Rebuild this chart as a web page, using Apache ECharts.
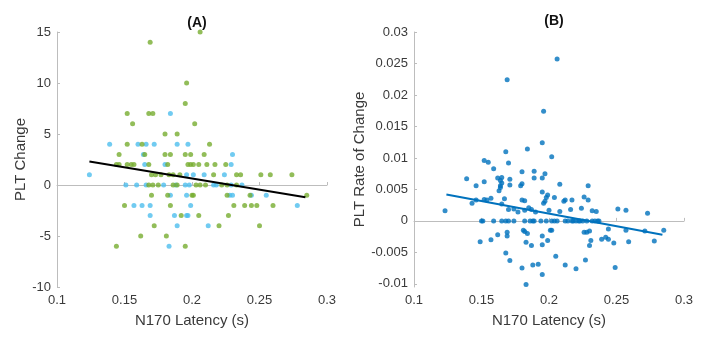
<!DOCTYPE html>
<html>
<head>
<meta charset="utf-8">
<style>
  html, body { margin: 0; padding: 0; background: #fff; }
  #chart { width: 720px; height: 347px; }
</style>
<script src="https://cdn.jsdelivr.net/npm/echarts@6/dist/echarts.min.js"></script>
</head>
<body>
<div id="chart"></div>
<script>
// Panel A: PLT change vs N170 latency, two groups ([latency, change])
const groupGreen = [
  [0.206, 15], [0.169, 14], [0.196, 10], [0.195, 8],
  [0.152, 7], [0.168, 7], [0.171, 7],
  [0.156, 6], [0.202, 6],
  [0.180, 5], [0.189, 5],
  [0.152, 4], [0.163, 4], [0.213, 4],
  [0.146, 3], [0.165, 3], [0.180, 3], [0.184, 3], [0.195, 3], [0.199, 3], [0.209, 3],
  [0.144, 2], [0.146, 2], [0.152, 2], [0.155, 2], [0.157, 2], [0.168, 2], [0.182, 2],
  [0.197, 2], [0.199, 2], [0.201, 2], [0.205, 2], [0.211, 2], [0.217, 2], [0.225, 2],
  [0.170, 1], [0.173, 1], [0.177, 1], [0.183, 1], [0.186, 1], [0.191, 1],
  [0.216, 1], [0.233, 1], [0.236, 1], [0.251, 1], [0.258, 1], [0.274, 1],
  [0.168, 0], [0.171, 0], [0.175, 0], [0.186, 0], [0.189, 0], [0.203, 0],
  [0.206, 0], [0.210, 0], [0.222, 0], [0.226, 0], [0.233, 0],
  [0.170, -1], [0.182, -1], [0.200, -1], [0.201, -1], [0.226, -1], [0.243, -1], [0.285, -1],
  [0.150, -2], [0.184, -2], [0.231, -2], [0.239, -2], [0.244, -2], [0.248, -2], [0.260, -2],
  [0.192, -3], [0.205, -3], [0.227, -3],
  [0.172, -4], [0.220, -4], [0.250, -4],
  [0.162, -5], [0.181, -5],
  [0.144, -6], [0.195, -6]
];
const groupBlue = [
  [0.184, 7],
  [0.139, 4], [0.160, 4], [0.166, 4], [0.172, 4], [0.189, 4], [0.197, 4],
  [0.164, 3], [0.230, 3],
  [0.165, 2], [0.180, 2], [0.229, 2],
  [0.124, 1], [0.196, 1], [0.201, 1], [0.209, 1], [0.224, 1],
  [0.151, 0], [0.159, 0], [0.166, 0], [0.179, 0], [0.188, 0], [0.195, 0],
  [0.198, 0], [0.216, 0], [0.218, 0], [0.229, 0], [0.237, 0],
  [0.184, -1], [0.196, -1], [0.228, -1], [0.230, -1], [0.244, -1], [0.255, -1],
  [0.157, -2], [0.163, -2], [0.169, -2], [0.199, -2], [0.278, -2],
  [0.169, -3], [0.187, -3], [0.196, -3], [0.197, -3],
  [0.189, -4], [0.212, -4],
  [0.183, -6]
];
// Least-squares fit line for panel A (end points)
const fitLineA = [[0.124, 2.3], [0.284, -1.2]];

// Panel B: PLT rate of change vs N170 latency
const rateData = [
  [0.206, 0.0257], [0.169, 0.0224], [0.196, 0.0174], [0.195, 0.0124],
  [0.184, 0.0114], [0.168, 0.0110], [0.202, 0.0102], [0.152, 0.0096],
  [0.155, 0.0093], [0.170, 0.0092], [0.159, 0.0083], [0.189, 0.0079],
  [0.180, 0.0078], [0.197, 0.0075], [0.195, 0.0068], [0.189, 0.0068],
  [0.139, 0.0067], [0.162, 0.0068], [0.165, 0.0069], [0.164, 0.0064],
  [0.171, 0.0066], [0.152, 0.0062], [0.146, 0.0056], [0.164, 0.0056],
  [0.165, 0.0060], [0.179, 0.0056], [0.180, 0.0059], [0.171, 0.0057],
  [0.208, 0.0058], [0.229, 0.0056], [0.163, 0.0048], [0.164, 0.0053],
  [0.195, 0.0046], [0.199, 0.0041], [0.198, 0.0037], [0.204, 0.0037],
  [0.226, 0.0038], [0.123, 0.0016], [0.143, 0.0028], [0.146, 0.0033],
  [0.152, 0.0034], [0.154, 0.0033], [0.157, 0.0036], [0.165, 0.0027],
  [0.167, 0.0035], [0.180, 0.0033], [0.182, 0.0032], [0.196, 0.0028],
  [0.197, 0.0031], [0.211, 0.0031], [0.212, 0.0033], [0.217, 0.0033],
  [0.229, 0.0033], [0.170, 0.0018], [0.174, 0.0019], [0.177, 0.0014],
  [0.182, 0.0017], [0.185, 0.0021], [0.187, 0.0018], [0.190, 0.0014],
  [0.200, 0.0017], [0.208, 0.0015], [0.216, 0.0018], [0.224, 0.0020],
  [0.232, 0.0016], [0.235, 0.0015], [0.251, 0.0019], [0.257, 0.0017],
  [0.273, 0.0012],
  [0.150, 0], [0.151, 0], [0.159, 0], [0.165, 0], [0.168, 0], [0.170, 0],
  [0.174, 0], [0.182, 0], [0.186, 0], [0.188, 0], [0.189, 0], [0.194, 0],
  [0.198, 0], [0.202, 0], [0.204, 0], [0.206, 0], [0.212, 0], [0.214, 0],
  [0.217, 0], [0.218, 0], [0.220, 0], [0.222, 0], [0.223, 0], [0.225, 0],
  [0.228, 0], [0.232, 0], [0.234, 0], [0.236, 0], [0.237, 0],
  [0.257, -0.0015], [0.271, -0.0016], [0.285, -0.0015], [0.244, -0.0013],
  [0.181, -0.0015], [0.182, -0.0017], [0.169, -0.0018], [0.184, -0.0020],
  [0.201, -0.0015], [0.202, -0.0015], [0.226, -0.0018], [0.228, -0.0018],
  [0.230, -0.0016], [0.162, -0.0022], [0.169, -0.0024], [0.195, -0.0024],
  [0.242, -0.0026], [0.244, -0.0029], [0.239, -0.0029], [0.157, -0.0030],
  [0.149, -0.0033], [0.199, -0.0031], [0.231, -0.0031], [0.248, -0.0035],
  [0.259, -0.0033], [0.278, -0.0032], [0.183, -0.0034], [0.187, -0.0039],
  [0.195, -0.0038], [0.230, -0.0039], [0.168, -0.0051], [0.205, -0.0056],
  [0.171, -0.0063], [0.227, -0.0062], [0.188, -0.0070], [0.192, -0.0069],
  [0.212, -0.0070], [0.180, -0.0075], [0.220, -0.0076], [0.249, -0.0074],
  [0.195, -0.0085], [0.183, -0.0101], [0.143, -0.0107]
];
// Least-squares fit line for panel B (end points)
const fitLineB = [[0.124, 0.0042], [0.284, -0.0022]];

// Axis ticks
const latencyTicks = [0.1, 0.15, 0.2, 0.25, 0.3];
const changeTicks = [-10, -5, 0, 5, 10, 15];
const rateTicks = [-0.01, -0.005, 0, 0.005, 0.01, 0.015, 0.02, 0.025, 0.03];

const FONT = '"Liberation Sans", Arial, Helvetica, sans-serif';
const AXIS_GREY = '#bdbdbd';
const TEXT_GREY = '#3a3a3a';

function latencyAxis(gridIndex) {
  return {
    type: 'value', gridIndex,
    min: latencyTicks[0], max: latencyTicks[latencyTicks.length - 1], interval: 0.05,
    name: 'N170 Latency (s)', nameLocation: 'middle', nameGap: 26,
    nameTextStyle: { fontFamily: FONT, fontSize: 15, color: TEXT_GREY },
    axisLine: { show: true, lineStyle: { color: AXIS_GREY, width: 1 } },
    axisTick: { show: true, inside: true, length: 3, lineStyle: { color: AXIS_GREY } },
    axisLabel: { fontFamily: FONT, fontSize: 13, color: TEXT_GREY, margin: 7,
                 formatter: v => String(Number(v.toFixed(3))) },
    splitLine: { show: false }
  };
}

const chart = echarts.init(document.getElementById('chart'), null, { renderer: 'canvas' });
chart.setOption({
  animation: false,
  backgroundColor: '#ffffff',
  title: [
    { text: '(A)', left: 192, top: 11, textAlign: 'center',
      textStyle: { fontFamily: FONT, fontSize: 14, fontWeight: 'bold', color: '#111' } },
    { text: '(B)', left: 549, top: 9, textAlign: 'center',
      textStyle: { fontFamily: FONT, fontSize: 14, fontWeight: 'bold', color: '#111' } }
  ],
  grid: [
    { left: 57, right: 393, top: 32, bottom: 60 },
    { left: 414, right: 36, top: 32, bottom: 60 }
  ],
  xAxis: [latencyAxis(0), latencyAxis(1)],
  yAxis: [
    {
      type: 'value', gridIndex: 0,
      min: changeTicks[0], max: changeTicks[changeTicks.length - 1], interval: 5,
      name: 'PLT Change', nameLocation: 'middle', nameGap: 25, nameRotate: 90,
      nameTextStyle: { fontFamily: FONT, fontSize: 15, color: TEXT_GREY },
      axisLine: { show: true, lineStyle: { color: AXIS_GREY, width: 1 } },
      axisTick: { show: true, inside: true, length: 3, lineStyle: { color: AXIS_GREY } },
      axisLabel: { fontFamily: FONT, fontSize: 13, color: TEXT_GREY, margin: 6 },
      splitLine: { show: false }
    },
    {
      type: 'value', gridIndex: 1,
      min: -0.0105, max: rateTicks[rateTicks.length - 1],
      name: 'PLT Rate of Change', nameLocation: 'middle', nameGap: 41, nameRotate: 90,
      nameTextStyle: { fontFamily: FONT, fontSize: 15, color: TEXT_GREY },
      axisLine: { show: true, lineStyle: { color: AXIS_GREY, width: 1 } },
      axisTick: { show: true, inside: true, length: 3, customValues: rateTicks,
                  lineStyle: { color: AXIS_GREY } },
      axisLabel: { fontFamily: FONT, fontSize: 13, color: TEXT_GREY, margin: 6,
                   customValues: rateTicks,
                   formatter: v => String(Number(v.toFixed(4))) },
      splitLine: { show: false }
    }
  ],
  series: [
    { type: 'scatter', xAxisIndex: 0, yAxisIndex: 0, data: groupBlue,
      symbolSize: 5, itemStyle: { color: '#4DBEEE' }, silent: true },
    { type: 'scatter', xAxisIndex: 0, yAxisIndex: 0, data: groupGreen,
      symbolSize: 5, itemStyle: { color: '#77AC30' }, silent: true },
    { type: 'line', xAxisIndex: 0, yAxisIndex: 0, data: fitLineA,
      showSymbol: false, lineStyle: { color: '#000000', width: 2 }, silent: true, z: 5 },
    { type: 'scatter', xAxisIndex: 1, yAxisIndex: 1, data: rateData,
      symbolSize: 5, itemStyle: { color: '#0072BD' }, silent: true },
    { type: 'line', xAxisIndex: 1, yAxisIndex: 1, data: fitLineB,
      showSymbol: false, lineStyle: { color: '#0072BD', width: 2 }, silent: true, z: 5 }
  ]
});
</script>
</body>
</html>
